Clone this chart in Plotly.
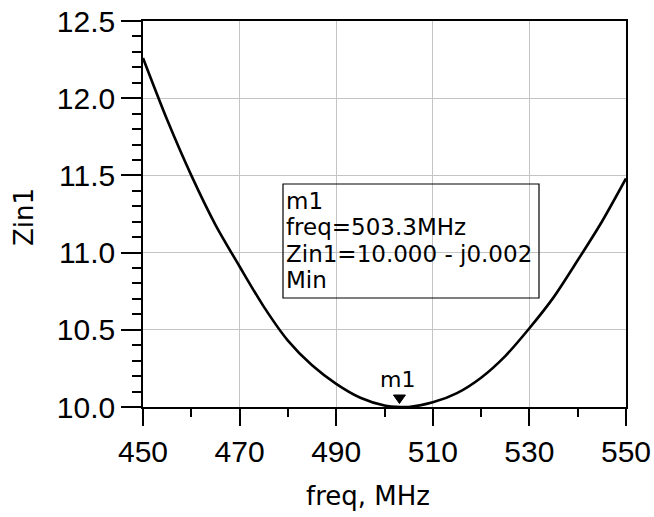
import plotly.graph_objects as go

# ---- data ----
freq_mhz = [450, 455, 460, 465, 470, 475, 480, 485, 490, 495, 500, 503.3,
            505, 510, 515, 520, 525, 530, 535, 540, 545, 550]
zin1 = [12.26, 11.86, 11.50, 11.18, 10.91, 10.65, 10.43, 10.27, 10.15, 10.06,
        10.01, 10.00, 10.00, 10.03, 10.09, 10.19, 10.33, 10.51, 10.71, 10.95,
        11.20, 11.48]

marker_name = "m1"
marker_freq = 503.3
marker_val = 10.0
readout_lines = ["m1", "freq=503.3MHz", "Zin1=10.000 - j0.002", "Min"]

x_tickvals = [450, 470, 490, 510, 530, 550]
x_ticktext = ["450", "470", "490", "510", "530", "550"]
x_minorvals = [460, 480, 500, 520, 540]
y_tickvals = [10.0, 10.5, 11.0, 11.5, 12.0, 12.5]
y_ticktext = ["10.0", "10.5", "11.0", "11.5", "12.0", "12.5"]
y_minorvals = [10.1, 10.2, 10.3, 10.4, 10.6, 10.7, 10.8, 10.9, 11.1, 11.2,
               11.3, 11.4, 11.6, 11.7, 11.8, 11.9, 12.1, 12.2, 12.3, 12.4]

x_title = "freq, MHz"
y_title = "Zin1"

# ---- figure ----
W, H = 654, 517
L, R, T, B = 143, 28, 21, 110
PW, PH = W - L - R, H - T - B


def px(xp):
    return (xp - L) / PW


def py(yp):
    return (H - B - yp) / PH


TICK_FONT = dict(family="Liberation Sans", size=30, color="black")
TEXT_FONT = "DejaVu Sans"

fig = go.Figure()
fig.add_trace(go.Scatter(
    x=freq_mhz, y=zin1, mode="lines",
    line=dict(color="black", width=2.6, shape="spline", smoothing=0.8),
    hoverinfo="skip", showlegend=False,
))

axis_common = dict(
    showgrid=True, gridcolor="#c4c4c4", gridwidth=1,
    showline=True, linecolor="black", linewidth=1.5, mirror=True,
    ticks="outside", tickcolor="black", tickwidth=1.5,
    zeroline=False, tickfont=TICK_FONT, automargin=False,
)

fig.update_xaxes(
    range=[450, 550], tickmode="array", tickvals=x_tickvals, ticktext=x_ticktext,
    ticklen=17,
    minor=dict(tickmode="array", tickvals=x_minorvals, ticks="outside",
               ticklen=8, tickcolor="black", tickwidth=1.5, showgrid=False),
    **axis_common,
)
fig.update_yaxes(
    range=[10.0, 12.5], tickmode="array", tickvals=y_tickvals, ticktext=y_ticktext,
    ticklen=20,
    minor=dict(tickmode="array", tickvals=y_minorvals, ticks="outside",
               ticklen=9, tickcolor="black", tickwidth=1.5, showgrid=False),
    **axis_common,
)

annotations = []
# axis titles
annotations.append(dict(text=x_title, xref="paper", yref="paper",
                        x=px(367.5), y=py(496), xanchor="center", yanchor="middle",
                        showarrow=False, font=dict(family=TEXT_FONT, size=26, color="black")))
annotations.append(dict(text=y_title, xref="paper", yref="paper",
                        x=px(24), y=py(217), xanchor="center", yanchor="middle",
                        textangle=-90, showarrow=False,
                        font=dict(family=TEXT_FONT, size=26, color="black")))
# readout box lines
line_centers = [201, 227, 254.5, 280]
for txt, yc in zip(readout_lines, line_centers):
    annotations.append(dict(text=txt, xref="paper", yref="paper",
                            x=px(285), y=py(yc), xanchor="left", yanchor="middle",
                            showarrow=False, borderpad=0,
                            font=dict(family=TEXT_FONT, size=23, color="black")))
# marker label
annotations.append(dict(text=marker_name, x=marker_freq, y=marker_val,
                        xref="x", yref="y", xanchor="center", yanchor="middle",
                        xshift=-3, yshift=28, showarrow=False,
                        font=dict(family=TEXT_FONT, size=22, color="black")))

shapes = [
    # readout box
    dict(type="rect", xref="paper", yref="paper",
         x0=px(283), x1=px(539), y0=py(298), y1=py(184),
         line=dict(color="black", width=1.2), fillcolor="rgba(0,0,0,0)"),
    # marker triangle (pixel-sized, anchored at marker point)
    dict(type="path", xref="x", yref="y", xsizemode="pixel", ysizemode="pixel",
         xanchor=marker_freq, yanchor=marker_val,
         path="M -7,12 L 5,12 L -1,3.5 Z",
         fillcolor="black", line=dict(color="black", width=1)),
]

fig.update_layout(
    width=W, height=H,
    margin=dict(l=L, r=R, t=T, b=B, pad=0, autoexpand=False),
    plot_bgcolor="white", paper_bgcolor="white",
    showlegend=False,
    annotations=annotations, shapes=shapes,
)

fig.write_html("out.html")
